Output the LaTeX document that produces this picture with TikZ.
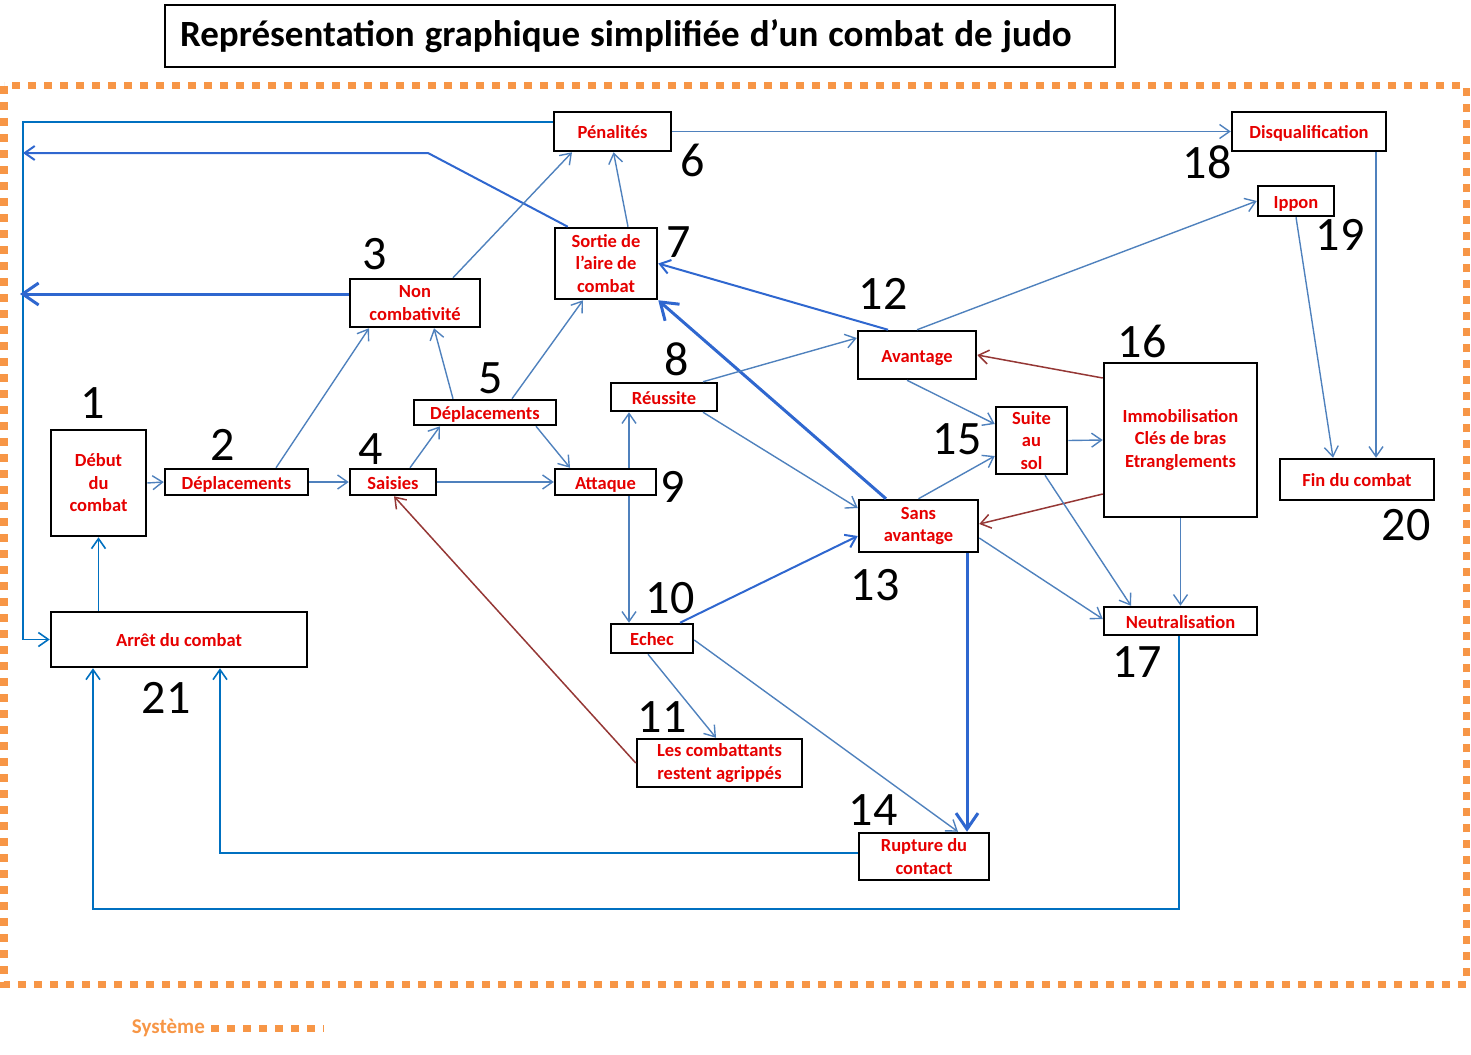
\documentclass[tikz,border=0pt]{standalone}
\usepackage{fontspec}
\setmainfont{Carlito}
\usetikzlibrary{arrows.meta,calc}
\definecolor{boxred}{RGB}{230,0,0}
\definecolor{lblue}{RGB}{79,129,189}
\definecolor{dblue}{RGB}{0,112,192}
\definecolor{mblue}{RGB}{47,103,207}
\definecolor{brn}{RGB}{149,55,53}
\definecolor{orng}{RGB}{247,150,70}
\begin{document}
\begin{tikzpicture}[x=1pt,y=-1pt,
  box/.style={draw=black,line width=2.5pt,fill=white,inner sep=0pt,align=center,text=boxred,font=\fontsize{18.5}{22.5}\selectfont\bfseries},
  oneline/.style={text height=14pt,text depth=0pt},
  num/.style={font=\fontsize{48}{48}\selectfont,inner sep=0pt,text=black},
  arr/.style={-{Straight Barb[length=10pt,width=14pt]}},
  lbA/.style={draw=lblue,line width=1.4pt,arr},
  dbA/.style={draw=dblue,line width=1.6pt,arr},
  mbA/.style={draw=mblue,line width=2pt,arr},
  tbA/.style={draw=mblue,line width=3pt,-{Straight Barb[length=16pt,width=22pt]}},
  brA/.style={draw=brn,line width=1.5pt,arr},
  border/.style={draw=orng,line width=7pt,dash pattern=on 8pt off 8pt}
]
\useasboundingbox (0,0) rectangle (1471,1054);

% title
\node[draw=black,line width=2.5pt,text width=920pt,inner xsep=15pt,inner ysep=0pt,minimum height=62pt,align=left,font=\fontsize{37}{42}\selectfont\bfseries] (title) at (640,36) {\spaceskip=0.27em Représentation graphique simplifiée d’un combat de judo};

% system border
\draw[border] (4,86) rectangle (1466,984);

% boxes
\node[box,oneline,minimum width=117pt,minimum height=39pt] (pen) at (612.5,131.5) {Pénalités};
\node[box,oneline,minimum width=154pt,minimum height=39pt] (disq) at (1309,131.5) {Disqualification};
\node[box,oneline,minimum width=76pt,minimum height=30pt] (ippon) at (1296,201) {Ippon};
\node[box,minimum width=102pt,minimum height=71pt] (sortie) at (606,263.5) {Sortie de\\l’aire de\\combat};
\node[box,minimum width=130pt,minimum height=48pt] (nonc) at (415,303) {Non\\combativité};
\node[box,oneline,minimum width=118pt,minimum height=48pt] (avant) at (917,355) {Avantage};
\node[box,oneline,minimum width=106pt,minimum height=28pt] (reuss) at (664,397) {Réussite};
\node[box,oneline,minimum width=142pt,minimum height=25pt] (depl5) at (485,412.5) {Déplacements};
\node[box,minimum width=95pt,minimum height=106pt] (debut) at (98.5,483) {Début\\du\\combat};
\node[box,oneline,minimum width=143pt,minimum height=26pt] (depl2) at (236.5,482) {Déplacements};
\node[box,oneline,minimum width=86pt,minimum height=26pt] (saisies) at (393,482) {Saisies};
\node[box,oneline,minimum width=101pt,minimum height=26pt] (attaque) at (605.5,482) {Attaque};
\node[box,minimum width=71pt,minimum height=67pt] (suite) at (1031.5,440.5) {Suite\\au\\sol};
\node[box,minimum width=153pt,minimum height=154pt] (immo) at (1180.5,440) {Immobilisation\\Clés de bras\\Etranglements};
\node[box,oneline,minimum width=154pt,minimum height=41pt] (fin) at (1357,479.5) {Fin du combat};
\node[box,minimum width=119pt,minimum height=52pt] (sans) at (918.5,526) {Sans\\avantage};
\node[box,oneline,minimum width=256pt,minimum height=55pt] (arret) at (179,639.5) {Arrêt du combat};
\node[box,oneline,minimum width=82pt,minimum height=29pt] (echec) at (652,638.5) {Echec};
\node[box,oneline,minimum width=153pt,minimum height=28pt] (neutr) at (1180.5,621) {Neutralisation};
\node[box,minimum width=165pt,minimum height=48pt] (lescomb) at (719.5,763) {Les combattants\\restent agrippés};
\node[box,minimum width=130pt,minimum height=47pt] (rupture) at (924,856.5) {Rupture du\\contact};

% numbers
\node[num] (n1) at (93,403) {1};
\node[num] (n2) at (223,445) {2};
\node[num] (n3) at (375,254) {3};
\node[num] (n4) at (371,449) {4};
\node[num] (n5) at (491,378) {5};
\node[num] (n6) at (693,160) {6};
\node[num] (n7) at (679,242) {7};
\node[num] (n8) at (677,359) {8};
\node[num] (n9) at (673,487) {9};
\node[num] (n10) at (670,598) {10};
\node[num] (n11) at (662,717) {11};
\node[num] (n12) at (883,294) {12};
\node[num] (n13) at (875,585) {13};
\node[num] (n14) at (873,810) {14};
\node[num] (n15) at (957,439) {15};
\node[num] (n16) at (1142,341) {16};
\node[num] (n17) at (1137,662) {17};
\node[num] (n18) at (1207,162) {18};
\node[num] (n19) at (1340,235) {19};
\node[num] (n20) at (1406,525) {20};
\node[num] (n21) at (166,698) {21};

% helper coordinates
\coordinate (lx) at (23,0);
\coordinate (by) at (0,909);
\coordinate (p1) at ($(pen.west)+(0,-9.5)$);
\coordinate (s2) at ($(sortie.north west)+(14,0)$);
\coordinate (k2) at (428,153);
\coordinate (e2) at (23,153);
\coordinate (s3) at ($(nonc.west)+(0,-9)$);
\coordinate (e3) at (20,294);
\coordinate (n23) at ($(neutr.south)+(-1.5,0)$);
\coordinate (a23) at ($(arret.south)+(-86,0)$);
\coordinate (r24) at ($(rupture.west)+(0,-3.5)$);
\coordinate (a24) at ($(arret.south)+(41,0)$);

% connectors
\draw[dbA] (p1) -- (p1 -| lx) -- (arret.west -| lx) -- (arret.west);
\draw[mbA] (s2) -- (k2) -- (e2);
\draw[tbA] (s3) -- (e3);
\draw[lbA] ($(nonc.north)+(38,0)$) -- ($(pen.south)+(-40.5,0)$);
\draw[lbA] ($(sortie.north)+(22,0)$) -- ($(pen.south)+(1,0)$);
\draw[lbA] (pen.east) -- (disq.west);
\draw[lbA] ($(disq.south)+(67,0)$) -- ($(fin.north)+(19,0)$);
\draw[lbA] (ippon.south) -- ($(fin.north)+(-24,0)$);
\draw[lbA] (avant.north) -- (ippon.west);
\draw[mbA] ($(avant.north)+(-29,0)$) -- (sortie.east);
\draw[tbA] ($(sans.north)+(-32.5,0)$) -- (sortie.south east);
\draw[lbA] ($(reuss.north)+(39,0)$) -- ($(avant.west)+(0,-17)$);
\draw[lbA] ($(reuss.south)+(39,0)$) -- ($(sans.west)+(0,-18)$);
\draw[brA] ($(immo.west)+(0,-62)$) -- (avant.east);
\draw[brA] ($(immo.west)+(0,54)$) -- ($(sans.east)+(0,-2)$);
\draw[lbA] ($(avant.south)+(-10,0)$) -- ($(suite.west)+(0,-16.5)$);
\draw[lbA] (sans.north) -- ($(suite.west)+(0,15.5)$);
\draw[lbA] (suite.east) -- (immo.west);
\draw[lbA] ($(suite.south)+(13.5,0)$) -- ($(neutr.north)+(-49.5,0)$);
\draw[lbA] (immo.south) -- (neutr.north);
\draw[lbA] ($(sans.east)+(0,12)$) -- ($(neutr.west)+(0,-2)$);
\draw[tbA] ($(sans.south)+(48.5,0)$) -- ($(rupture.north)+(43,0)$);
\draw[dbA] (n23) -- (n23 |- by) -- (a23 |- by) -- (a23);
\draw[dbA] (r24) -- (a24 |- r24) -- (a24);
\draw[dbA] (debut.south |- arret.north) -- (debut.south);
\draw[lbA] (debut.east) -- (depl2.west);
\draw[lbA] (depl2.east) -- (saisies.west);
\draw[lbA] ($(depl2.north)+(39.5,0)$) -- ($(nonc.south)+(-46,0)$);
\draw[lbA] ($(saisies.north)+(17,0)$) -- ($(depl5.south)+(-45,0)$);
\draw[lbA] ($(depl5.north)+(-32,0)$) -- ($(nonc.south)+(19,0)$);
\draw[lbA] ($(depl5.north)+(27,0)$) -- ($(sortie.south)+(-23,0)$);
\draw[lbA] ($(depl5.south)+(51,0)$) -- ($(attaque.north)+(-35.5,0)$);
\draw[lbA] (saisies.east) -- (attaque.west);
\draw[lbA] ($(attaque.north)+(23.5,0)$) -- ($(reuss.south)+(-35,0)$);
\draw[lbA] ($(attaque.south)+(23.5,0)$) -- ($(echec.north)+(-23,0)$);
\draw[mbA] ($(echec.north)+(28,0)$) -- ($(sans.west)+(0,10)$);
\draw[lbA] ($(echec.south)+(-4,0)$) -- ($(lescomb.north)+(-3.5,0)$);
\draw[lbA] ($(echec.east)+(0,1.5)$) -- ($(rupture.north)+(34,0)$);
\draw[brA] (lescomb.west) -- ($(saisies.south)+(1,0)$);

% legend
\node[font=\fontsize{21}{21}\selectfont\bfseries,text=orng,anchor=east,inner sep=0pt] (leg) at (205,1028) {Système};
\draw[border] ($(leg.east)+(6,0)$) -- ($(leg.east)+(119,0)$);
\end{tikzpicture}
\end{document}
